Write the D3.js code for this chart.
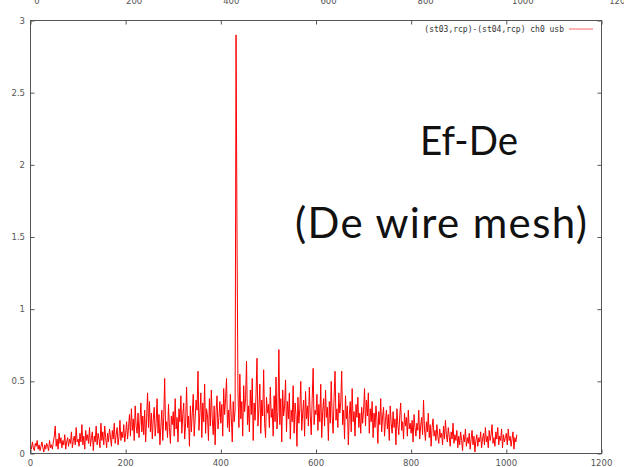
<!DOCTYPE html>
<html><head><meta charset="utf-8">
<script src="https://cdn.jsdelivr.net/npm/d3@7"></script>
<style>body{margin:0;background:#fff}svg{display:block}</style>
</head><body>
<script>
// sample spacing along the x channel axis
const sampleStep = 2;
// amplitude values, one per sample (x = index * sampleStep)
const amplitude = [
0.06,0.03,0.08,0.04,0.02,0.07,0.05,0.09,0.03,0.06,0.02,0.05,0.08,0.04,0.01,0.06,0.03,0.07,0.05,0.02,0.09,0.04,0.06,0.03,0.08,
0.12,0.19,0.05,0.10,0.03,0.14,0.07,0.11,0.04,0.09,0.06,0.13,0.03,0.08,0.11,0.05,0.10,0.07,0.15,0.04,0.09,0.12,0.06,0.18,0.08,
0.10,0.05,0.14,0.08,0.20,0.06,0.12,0.03,0.16,0.09,0.13,0.07,0.18,0.05,0.11,0.15,0.02,0.12,0.08,0.19,0.06,0.14,0.10,0.04,0.21,
0.09,0.15,0.06,0.19,0.11,0.04,0.14,0.08,0.17,0.12,0.05,0.16,0.10,0.21,0.07,0.13,0.18,0.06,0.12,0.23,0.09,0.15,0.11,0.20,0.08,
0.14,0.22,0.10,0.18,0.27,0.12,0.31,0.16,0.24,0.09,0.33,0.19,0.14,0.28,0.11,0.22,0.35,0.15,0.26,0.13,0.30,0.08,0.24,0.42,0.18,
0.36,0.15,0.28,0.10,0.24,0.32,0.12,0.21,0.38,0.14,0.27,0.06,0.19,0.30,0.09,0.25,0.52,0.16,0.22,0.11,0.34,0.18,0.07,0.26,0.20,
0.29,0.12,0.38,0.17,0.25,0.08,0.31,0.22,0.40,0.14,0.27,0.35,0.10,0.21,0.46,0.18,0.26,0.05,0.33,0.15,0.28,0.41,0.12,0.24,0.37,
0.30,0.57,0.16,0.28,0.42,0.11,0.35,0.22,0.48,0.14,0.31,0.26,0.09,0.38,0.19,0.44,0.24,0.13,0.33,0.06,0.29,0.40,0.17,0.25,0.36,
0.21,0.34,0.12,0.45,0.27,0.38,0.52,0.18,0.30,0.15,0.41,0.25,0.08,0.36,0.22,0.30,
2.90,1.51,
0.42,0.18,0.55,0.24,0.36,0.12,0.47,
0.29,0.38,0.64,0.20,0.33,0.15,0.44,0.27,0.52,0.09,0.35,0.23,0.41,0.66,0.19,0.31,0.48,0.14,0.37,0.26,0.58,0.21,0.11,0.39,0.28,
0.34,0.18,0.46,0.25,0.31,0.12,0.40,0.22,0.53,0.17,0.29,0.72,0.20,0.38,0.08,0.44,0.26,0.33,0.51,0.15,0.36,0.24,0.42,0.10,0.30,
0.22,0.47,0.14,0.35,0.27,0.05,0.39,0.21,0.31,0.50,0.16,0.28,0.37,0.12,0.43,0.24,0.33,0.19,0.46,0.26,0.13,0.38,0.59,0.20,0.30,
0.27,0.41,0.16,0.34,0.22,0.48,0.11,0.29,0.38,0.19,0.44,0.25,0.32,0.09,0.36,0.21,0.50,0.26,0.14,0.39,0.57,0.23,0.31,0.18,0.42,
0.28,0.35,0.57,0.20,0.30,0.10,0.40,0.24,0.33,0.06,0.27,0.36,0.15,0.45,0.22,0.29,0.12,0.34,0.25,0.39,0.18,0.28,0.14,0.32,0.21,
0.30,0.45,0.19,0.37,0.26,0.42,0.14,0.31,0.22,0.36,0.11,0.28,0.18,0.33,0.24,0.07,0.29,0.20,0.38,0.15,0.26,0.32,0.12,0.23,0.30,
0.17,0.27,0.09,0.33,0.21,0.14,0.29,0.18,0.24,0.06,0.31,0.20,0.13,0.26,0.35,0.16,0.22,0.10,0.28,0.19,0.25,0.12,0.30,0.17,0.21,
0.14,0.23,0.08,0.27,0.18,0.12,0.21,0.16,0.30,0.10,0.19,0.25,0.13,0.37,0.17,0.09,0.22,0.15,0.28,0.11,0.20,0.05,0.18,0.24,0.12,
0.16,0.09,0.20,0.12,0.07,0.17,0.11,0.14,0.06,0.19,0.10,0.23,0.13,0.08,0.18,0.12,0.05,0.15,0.10,0.21,0.07,0.13,0.09,0.16,0.04,
0.12,0.06,0.15,0.09,0.02,0.13,0.08,0.17,0.05,0.11,0.07,0.14,0.03,0.10,0.16,0.06,0.12,0.01,0.09,0.13,0.05,0.11,0.08,0.15,0.04,
0.10,0.14,0.06,0.18,0.08,0.12,0.04,0.16,0.09,0.13,0.20,0.07,0.11,0.05,0.15,0.10,0.18,0.06,0.12,0.09,0.17,0.04,0.13,0.08,0.11,
0.14,0.06,0.17,0.09,0.12,0.05,0.10,0.15,0.03,0.11,0.08,0.13
];
const xTicks = [0, 200, 400, 600, 800, 1000, 1200];
const yTicks = [0, 0.5, 1, 1.5, 2, 2.5, 3];
const yTickLabels = ["0", "0.5", "1", "1.5", "2", "2.5", "3"];
const legendLabel = "(st03,rcp)-(st04,rcp) ch0 usb";
const titleLines = ["Ef-De", "(De wire mesh)"];

const W = 624, H = 467;
const svg = d3.select("body").append("svg").attr("width", W).attr("height", H);

const L = 30.5, R = 601.5, T = 20.5, B = 453.5;
const x = d3.scaleLinear().domain([0, 1200]).range([L, R]);
const y = d3.scaleLinear().domain([0, 3]).range([B, T]);
// the top label row belongs to a slightly wider copy of the plot (cropped at the top)
const xTop = d3.scaleLinear().domain([0, 1200]).range([37, 620]);

const tickFont = "DejaVu Sans, sans-serif";
const tickColor = "#555";

// data line
const line = d3.line().x((d, i) => x(i * sampleStep)).y(d => y(d));
svg.append("path").datum(amplitude)
  .attr("d", line).attr("fill", "none").attr("stroke", "#ff0000")
  .attr("stroke-width", 1);

// frame
svg.append("rect").attr("x", L).attr("y", T).attr("width", R - L).attr("height", B - T)
  .attr("fill", "none").attr("stroke", "#555").attr("stroke-width", 1);

// axes with inward ticks
const gB = svg.append("g").attr("transform", `translate(0,${B})`)
  .call(d3.axisTop(x).tickValues(xTicks).tickSize(4).tickFormat(""));
const gT = svg.append("g").attr("transform", `translate(0,${T})`)
  .call(d3.axisBottom(x).tickValues(xTicks).tickSize(4).tickFormat(""));
const gL = svg.append("g").attr("transform", `translate(${L},0)`)
  .call(d3.axisRight(y).tickValues(yTicks).tickSize(4).tickFormat(""));
const gR = svg.append("g").attr("transform", `translate(${R},0)`)
  .call(d3.axisLeft(y).tickValues(yTicks).tickSize(4).tickFormat(""));
[gB, gT, gL, gR].forEach(g => {
  g.select(".domain").remove();
  g.selectAll(".tick line").attr("stroke", "#555");
});

// tick labels
svg.append("g").selectAll("text").data(xTicks).join("text")
  .attr("x", d => x(d)).attr("y", 466)
  .attr("text-anchor", "middle").attr("font-family", tickFont).attr("font-size", 8.5)
  .attr("fill", tickColor).text(d => d);
svg.append("g").selectAll("text").data(xTicks).join("text")
  .attr("x", d => xTop(d)).attr("y", 4)
  .attr("text-anchor", "middle").attr("font-family", tickFont).attr("font-size", 8.5)
  .attr("fill", tickColor).text(d => d);
svg.append("g").selectAll("text").data(yTicks).join("text")
  .attr("x", 25).attr("y", d => y(d) + 3)
  .attr("text-anchor", "end").attr("font-family", tickFont).attr("font-size", 8.5)
  .attr("fill", tickColor).text((d, i) => yTickLabels[i]);

// legend
svg.append("text").attr("x", 564).attr("y", 32)
  .attr("text-anchor", "end").attr("font-family", "DejaVu Sans Mono, monospace")
  .attr("font-size", 8).attr("fill", "#333").text(legendLabel);
svg.append("line").attr("x1", 569).attr("x2", 593).attr("y1", 29).attr("y2", 29)
  .attr("stroke", "#ff0000").attr("stroke-width", 1).attr("stroke-opacity", 0.6);

// large annotation text
svg.append("text").attr("x", 420).attr("y", 155)
  .attr("font-family", "Lato, sans-serif").attr("font-size", 41).attr("fill", "#111")
  .attr("textLength", 98).attr("lengthAdjust", "spacingAndGlyphs")
  .text(titleLines[0]);
svg.append("text").attr("x", 295).attr("y", 238)
  .attr("font-family", "Lato, sans-serif").attr("font-size", 42).attr("fill", "#111")
  .attr("textLength", 292).attr("lengthAdjust", "spacing")
  .text(titleLines[1]);
</script>
</body></html>
